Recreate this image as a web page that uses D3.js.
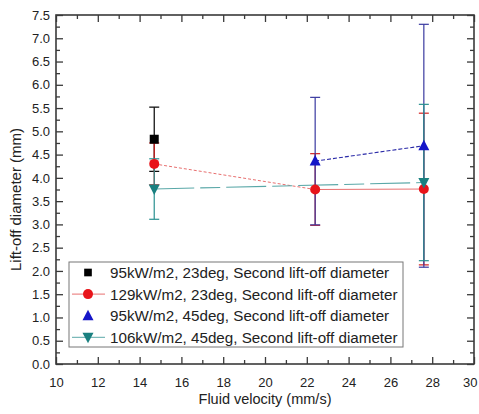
<!DOCTYPE html>
<html><head><meta charset="utf-8">
<script src="https://cdn.jsdelivr.net/npm/d3@7"></script>
<style>body{margin:0;background:#fff}svg{display:block}text{font-family:"Liberation Sans",Arial,sans-serif;fill:#222}</style>
</head><body><svg id="c" width="479" height="414"></svg>
<script>
const seriesNames = ["95kW/m2, 23deg, Second lift-off diameter","129kW/m2, 23deg, Second lift-off diameter","95kW/m2, 45deg, Second lift-off diameter","106kW/m2, 45deg, Second lift-off diameter"];
const seriesColors = ["#000000","#e8141a","#1515c8","#1a8080"];
const errColors = ["#000000","#d42020","#3a3aa0","#2a9090"];
const seriesSymbols = ["square","circle","triangle","triangleDown"];
const blackX = [14.7], blackY = [4.83], blackErr = [0.69];
const redX = [14.7, 22.4, 27.6], redY = [4.30, 3.75, 3.76], redErr = [0.45, 0.77, 1.63];
const blueX = [22.4, 27.6], blueY = [4.36, 4.69], blueErr = [1.37, 2.61];
const tealX = [14.7, 27.6], tealY = [3.76, 3.90], tealErr = [0.65, 1.68];
const xTicks = [10,12,14,16,18,20,22,24,26,28,30];
const yTicks = [0,0.5,1,1.5,2,2.5,3,3.5,4,4.5,5,5.5,6,6.5,7,7.5];

const svg = d3.select("#c");
const L=56, R=474, T=15, B=364;
const x = d3.scaleLinear().domain([10,30]).range([L,R]);
const y = d3.scaleLinear().domain([0,7.5]).range([B,T]);
const frame = "#3a3a3a";

// axes with inward ticks
const gB = svg.append("g").attr("transform",`translate(0,${B})`)
  .call(d3.axisBottom(x).tickValues(xTicks).tickSize(-7).tickPadding(14).tickFormat(d3.format("d")));
const gBm = svg.append("g").attr("transform",`translate(0,${B})`)
  .call(d3.axisBottom(x).tickValues(d3.range(11,30,2)).tickSize(-4).tickFormat(""));
const gT = svg.append("g").attr("transform",`translate(0,${T})`)
  .call(d3.axisTop(x).tickValues(xTicks).tickSize(-7).tickFormat(""));
const gTm = svg.append("g").attr("transform",`translate(0,${T})`)
  .call(d3.axisTop(x).tickValues(d3.range(11,30,2)).tickSize(-4).tickFormat(""));
const gL = svg.append("g").attr("transform",`translate(${L},0)`)
  .call(d3.axisLeft(y).tickValues(yTicks).tickSize(-7).tickPadding(6).tickFormat(d3.format(".1f")));
const gLm = svg.append("g").attr("transform",`translate(${L},0)`)
  .call(d3.axisLeft(y).tickValues(d3.range(0.25,7.5,0.5)).tickSize(-4).tickFormat(""));
const gR = svg.append("g").attr("transform",`translate(${R},0)`)
  .call(d3.axisRight(y).tickValues(yTicks).tickSize(-7).tickFormat(""));
const gRm = svg.append("g").attr("transform",`translate(${R},0)`)
  .call(d3.axisRight(y).tickValues(d3.range(0.25,7.5,0.5)).tickSize(-4).tickFormat(""));
svg.selectAll(".domain").remove();
svg.selectAll(".tick line").attr("stroke",frame).attr("stroke-width",1.3);
svg.selectAll(".tick text").style("font-size","13px").attr("fill","#333");
// keep the last x label inside the window
gB.selectAll(".tick text").filter(d=>d===30).attr("text-anchor","end").attr("dx","3");
svg.append("rect").attr("x",L).attr("y",T).attr("width",R-L).attr("height",B-T)
  .attr("fill","none").attr("stroke",frame).attr("stroke-width",1.6);

// titles
svg.append("text").attr("x",(L+R)/2 ).attr("y",404).attr("text-anchor","middle")
  .style("font-size","14.5px").text("Fluid velocity (mm/s)");
svg.append("text").attr("transform",`translate(21,${(T+B)/2+10}) rotate(-90)`).attr("text-anchor","middle")
  .style("font-size","15px").text("Lift-off diameter (mm)");

const series = [
  {xs:blackX, ys:blackY, es:blackErr},
  {xs:redX, ys:redY, es:redErr},
  {xs:blueX, ys:blueY, es:blueErr},
  {xs:tealX, ys:tealY, es:tealErr}
];

function sym(g, type, cx, cy, color, s){
  const sc = s||1;
  if(type==="square") g.append("rect").attr("x",cx-4.5*sc).attr("y",cy-4.5*sc).attr("width",9*sc).attr("height",9*sc).attr("fill",color);
  else if(type==="circle") g.append("circle").attr("cx",cx).attr("cy",cy).attr("r",5*sc).attr("fill",color);
  else if(type==="triangle") g.append("path").attr("d",`M${cx},${cy-6*sc}L${cx+5.5*sc},${cy+4.5*sc}L${cx-5.5*sc},${cy+4.5*sc}Z`).attr("fill",color);
  else g.append("path").attr("d",`M${cx},${cy+6*sc}L${cx+5.5*sc},${cy-4.5*sc}L${cx-5.5*sc},${cy-4.5*sc}Z`).attr("fill",color);
}

// lines
const line = d3.line().x(d=>x(d[0])).y(d=>y(d[1]));
svg.append("path").attr("d",line([[redX[0],redY[0]],[redX[1],redY[1]]])).attr("fill","none")
  .attr("stroke","#e87070").attr("stroke-width",1).attr("stroke-dasharray","3,2");
svg.append("path").attr("d",line([[redX[1],redY[1]],[redX[2],redY[2]]])).attr("fill","none")
  .attr("stroke","#e87070").attr("stroke-width",1);
svg.append("path").attr("d",line(blueX.map((v,i)=>[v,blueY[i]]))).attr("fill","none")
  .attr("stroke","#2a2aa8").attr("stroke-width",1.1).attr("stroke-dasharray","4,2");
svg.append("path").attr("d",line(tealX.map((v,i)=>[v,tealY[i]]))).attr("fill","none")
  .attr("stroke","#5aa8a8").attr("stroke-width",1.1).attr("stroke-dasharray","40,6,20,6");

// error bars
series.forEach((s,k)=>{
  s.xs.forEach((xv,i)=>{
    const cx=x(xv), y1=y(s.ys[i]+s.es[i]), y0=y(s.ys[i]-s.es[i]);
    const g=svg.append("g").attr("stroke",errColors[k]).attr("stroke-width",1.2);
    g.append("line").attr("x1",cx).attr("x2",cx).attr("y1",y0).attr("y2",y1);
    g.append("line").attr("x1",cx-5).attr("x2",cx+5).attr("y1",y0).attr("y2",y0);
    g.append("line").attr("x1",cx-5).attr("x2",cx+5).attr("y1",y1).attr("y2",y1);
  });
});
// markers
series.forEach((s,k)=>{
  s.xs.forEach((xv,i)=>sym(svg, seriesSymbols[k], x(xv), y(s.ys[i]), seriesColors[k]));
});

// legend
const lg = svg.append("g");
lg.append("rect").attr("x",69).attr("y",262).attr("width",334).attr("height",85)
  .attr("fill","#fff").attr("stroke","#777").attr("stroke-width",1);
const lineCols = [null,"#e87070",null,"#5aa8a8"];
seriesNames.forEach((n,k)=>{
  const yy = 272.5 + k*21.6;
  if(lineCols[k]) lg.append("line").attr("x1",72).attr("x2",105).attr("y1",yy).attr("y2",yy).attr("stroke",lineCols[k]).attr("stroke-width",1);
  sym(lg, seriesSymbols[k], 88, yy, seriesColors[k], k===0?0.85:1);
  lg.append("text").attr("x",110).attr("y",yy+5.5).style("font-size","15.2px").text(n);
});
</script></body></html>
